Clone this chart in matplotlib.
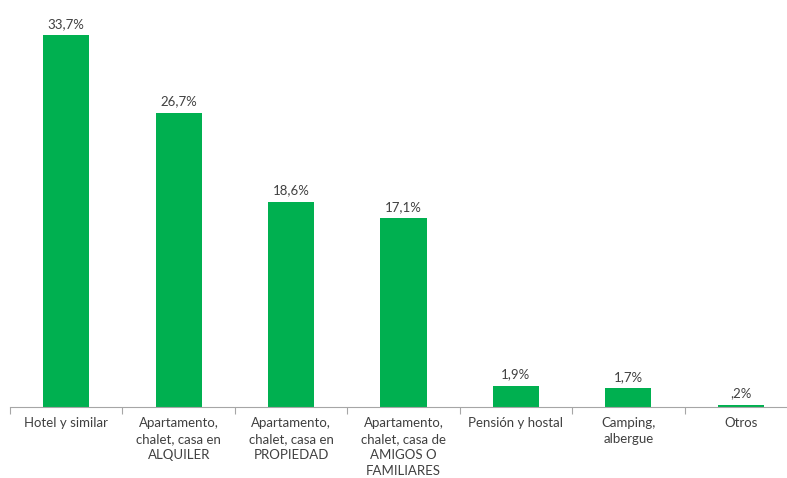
import numpy as np
import matplotlib.pyplot as plt

# Data
categories = [
    "Hotel y similar",
    "Apartamento,\nchalet, casa en\nALQUILER",
    "Apartamento,\nchalet, casa en\nPROPIEDAD",
    "Apartamento,\nchalet, casa de\nAMIGOS O\nFAMILIARES",
    "Pensión y hostal",
    "Camping,\nalbergue",
    "Otros",
]
values = [33.7, 26.7, 18.6, 17.1, 1.9, 1.7, 0.2]
value_labels = ["33,7%", "26,7%", "18,6%", "17,1%", "1,9%", "1,7%", ",2%"]

GREEN = "#00B050"
TEXT = "#404040"

plt.rcParams['font.family'] = ['Lato', 'DejaVu Sans']

fig = plt.figure(figsize=(7.87, 4.78), dpi=100)
ax = fig.add_axes([10 / 787, 71 / 478, 1.0, 397 / 478])

x = np.arange(len(categories))
ax.bar(x, values, width=0.41, color=GREEN)

for xi, v, lab in zip(x, values, value_labels):
    ax.text(xi, v + 0.5, lab, ha='center', va='bottom', fontsize=9.5, color=TEXT)

ax.set_xlim(-0.5, len(categories) - 0.5)
ax.set_ylim(0, 36)

# Category labels centred, ticks at boundaries
ax.set_xticks(np.arange(len(categories) + 1) - 0.5)
ax.set_xticklabels([])
ax.tick_params(axis='x', length=5, color='#A6A6A6', direction='out')
for xi, c in zip(x, categories):
    ax.text(xi, -0.95, c, ha='center', va='top', fontsize=9.5, color=TEXT,
            linespacing=1.4)

ax.set_yticks([])
for s in ['top', 'right', 'left']:
    ax.spines[s].set_visible(False)
ax.spines['bottom'].set_color('#A6A6A6')

fig.savefig("out.png", dpi=100)
